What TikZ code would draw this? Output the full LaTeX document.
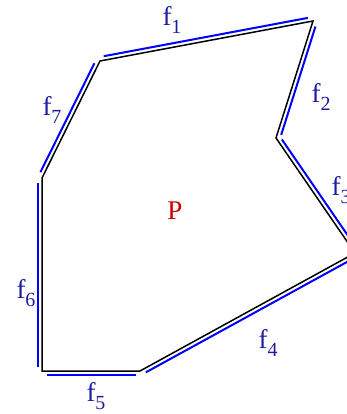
\documentclass[tikz,border=0pt]{standalone}
\usepackage{fontspec}
\setmainfont{Liberation Serif}
\usetikzlibrary{calc}
\definecolor{facetcolor}{HTML}{0000FF}
\definecolor{labelcolor}{HTML}{1C1CA0}
\definecolor{polycolor}{HTML}{D00000}
\newcommand{\fsub}[1]{f\raisebox{-.3em}{\fontsize{20}{20}\selectfont#1}}
\tikzset{
  poly edge/.style={black,line width=1.5pt,line join=miter},
  poly facet/.style={facetcolor,line width=2pt},
  facet label/.style={text=labelcolor,font=\fontsize{27}{30}\selectfont,inner sep=0pt},
  poly label/.style={text=polycolor,font=\fontsize{27}{30}\selectfont,inner sep=0pt}
}
\begin{document}
\begin{tikzpicture}[x=1pt,y=-1pt]
  \useasboundingbox (0,0) rectangle (347,414);
  \clip (0,0) rectangle (347,414);
  \coordinate (v1) at (100,61);
  \coordinate (v2) at (313,21);
  \coordinate (v3) at (276,138);
  \coordinate (v4) at (355,253);
  \coordinate (v5) at (140,371);
  \coordinate (v6) at (42,371);
  \coordinate (v7) at (42,178);
  \draw[poly edge] (v1)--(v2)--(v3)--(v4)--(v5)--(v6)--(v7)--cycle;
  \foreach \a/\b in {v1/v2,v2/v3,v3/v4,v4/v5,v5/v6,v6/v7,v7/v1}{
    \draw[poly facet] ($(\a)!4.5pt!(\b)!4pt!90:(\b)$)--($(\b)!4.5pt!(\a)!4pt!-90:(\a)$);
  }
  \node[facet label] (l1) at (172,20) {\fsub{1}};
  \node[facet label] (l2) at (321,97) {\fsub{2}};
  \node[facet label] (l3) at (341,190) {\fsub{3}};
  \node[facet label] (l4) at (268,343) {\fsub{4}};
  \node[facet label] (l5) at (96,396) {\fsub{5}};
  \node[facet label] (l6) at (26,293) {\fsub{6}};
  \node[facet label] (l7) at (52,110) {\fsub{7}};
  \node[poly label] (pname) at (175,211) {P};
\end{tikzpicture}
\end{document}
